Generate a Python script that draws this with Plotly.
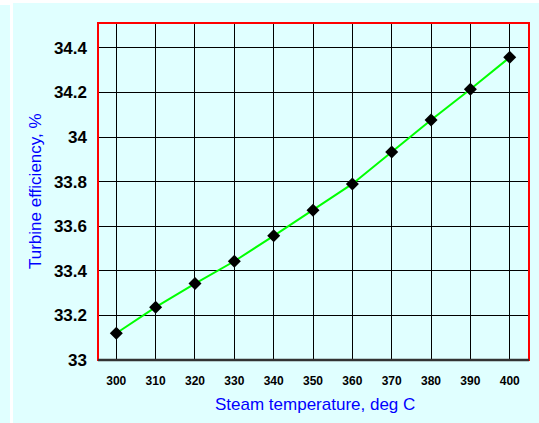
import plotly.graph_objects as go

temps = [300, 310, 320, 330, 340, 350, 360, 370, 380, 390, 400]
efficiency = [33.12, 33.237, 33.343, 33.443, 33.557, 33.672, 33.79, 33.933, 34.077, 34.215, 34.358]
x_ticks = [300, 310, 320, 330, 340, 350, 360, 370, 380, 390, 400]
y_ticks = [33, 33.2, 33.4, 33.6, 33.8, 34, 34.2, 34.4]
y_tick_text = ["33", "33.2", "33.4", "33.6", "33.8", "34", "34.2", "34.4"]

W, H = 539, 423
ML, MR, MT, MB = 98, 10, 23, 63
PW, PH = W - ML - MR, H - MT - MB

def fx(px):
    return (px - ML) / PW

def fy(py):
    return (H - MB - py) / PH

FONT = "Liberation Sans, Arial, sans-serif"
BG = "#E0FFFF"

fig = go.Figure()
fig.add_trace(go.Scatter(
    x=temps, y=efficiency, mode="lines+markers",
    line=dict(color="#00FF00", width=2),
    marker=dict(symbol="diamond", size=10, color="black"),
    showlegend=False, cliponaxis=False,
))

shapes = [
    dict(type="rect", xref="paper", yref="paper", x0=fx(0), x1=fx(10), y0=fy(423), y1=fy(5),
         fillcolor=BG, line=dict(width=0), layer="below"),
    dict(type="rect", xref="paper", yref="paper", x0=fx(13), x1=fx(539), y0=fy(423), y1=fy(3),
         fillcolor=BG, line=dict(width=0), layer="below"),
    dict(type="rect", xref="paper", yref="paper", x0=0, x1=1, y0=0, y1=1,
         line=dict(color="red", width=2), layer="above"),
    dict(type="line", xref="paper", yref="paper", x0=0, x1=1, y0=0, y1=0,
         line=dict(color="#333333", width=2.5), layer="above"),
]

fig.update_layout(
    width=W, height=H,
    margin=dict(l=ML, r=MR, t=MT, b=MB),
    paper_bgcolor="white", plot_bgcolor=BG,
    font=dict(family=FONT, color="black"),
    shapes=shapes,
    xaxis=dict(range=[295.35, 404.9], tickvals=x_ticks, ticktext=[str(v) for v in x_ticks],
               showgrid=True, gridcolor="black", gridwidth=1, zeroline=False,
               showline=False, ticks="", ticklabelstandoff=12,
               tickfont=dict(size=12, weight="bold", family=FONT)),
    yaxis=dict(range=[33, 34.512], tickvals=y_ticks, ticktext=y_tick_text,
               showgrid=True, gridcolor="black", gridwidth=1, zeroline=False,
               showline=False, ticks="", ticklabelstandoff=10,
               tickfont=dict(size=17, weight="bold", family=FONT)),
    annotations=[
        dict(text="Steam temperature, deg C", xref="paper", yref="paper", x=fx(315), y=0,
             yanchor="middle", xanchor="center", yshift=-44, showarrow=False,
             font=dict(size=17, color="#0000FF", family=FONT)),
        dict(text="Turbine efficiency, %", xref="paper", yref="paper", x=0, y=fy(191),
             xanchor="center", yanchor="middle", xshift=-63, textangle=-90, showarrow=False,
             font=dict(size=17, color="#0000FF", family=FONT)),
    ],
)

fig.write_html("out.html", config={"displayModeBar": False},
               post_script="document.body.style.margin='0';")
